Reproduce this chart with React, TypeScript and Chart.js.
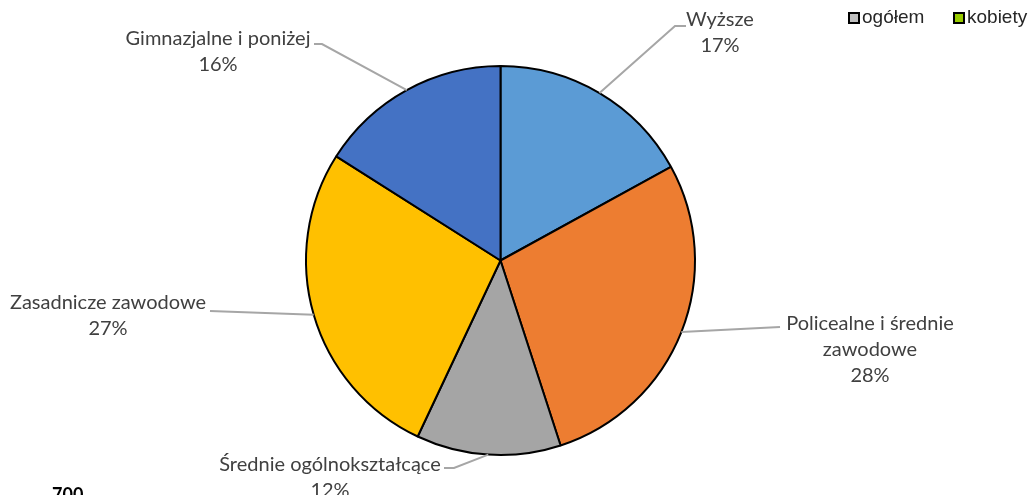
import React, { useEffect, useRef } from "react";
import { Chart, registerables } from "chart.js";

Chart.register(...registerables);

const categories = [
  "Wyższe",
  "Policealne i średnie zawodowe",
  "Średnie ogólnokształcące",
  "Zasadnicze zawodowe",
  "Gimnazjalne i poniżej",
];
const shares = [17, 28, 12, 27, 16];
const sliceColors = ["#5B9BD5", "#ED7D31", "#A5A5A5", "#FFC000", "#4472C4"];
const legendLabels = ["ogółem", "kobiety"];
const legendColors = ["#BFBFBF", "#99CC00"];
const cutAxisLabel = "700";

// label text lines (category broken for display) and layout of each label
const labelLines = [
  ["Wyższe"],
  ["Policealne i średnie", "zawodowe"],
  ["Średnie ogólnokształcące"],
  ["Zasadnicze zawodowe"],
  ["Gimnazjalne i poniżej"],
];
const labelLayout = [
  { cx: 720, top: 20, path: [[675, 26], [686, 26]] },
  { cx: 870, top: 324, path: [[780, 327]] },
  { cx: 330, top: 465, path: [[454, 468], [444, 468]] },
  { cx: 108, top: 303, path: [[210, 311]] },
  { cx: 218, top: 39, path: [[322, 44], [314, 44]] },
];

const LABEL_FONT = "20px Lato, 'Open Sans', sans-serif";

const labelPlugin = {
  id: "excelLabels",
  afterDraw(chart: any) {
    const ctx = chart.ctx as CanvasRenderingContext2D;
    const meta = chart.getDatasetMeta(0);
    ctx.save();
    meta.data.forEach((arc: any, i: number) => {
      const { x, y, outerRadius, startAngle, endAngle } = arc.getProps(
        ["x", "y", "outerRadius", "startAngle", "endAngle"],
        true
      );
      const mid = (startAngle + endAngle) / 2;
      const sx = x + Math.cos(mid) * outerRadius;
      const sy = y + Math.sin(mid) * outerRadius;
      const lay = labelLayout[i];
      ctx.strokeStyle = "#A6A6A6";
      ctx.lineWidth = 2;
      ctx.beginPath();
      ctx.moveTo(sx, sy);
      lay.path.forEach((p) => ctx.lineTo(p[0], p[1]));
      ctx.stroke();
      const lines = [...labelLines[i], `${shares[i]}%`];
      ctx.fillStyle = "#404040";
      ctx.font = LABEL_FONT;
      ctx.textAlign = "center";
      ctx.textBaseline = "middle";
      lines.forEach((t, k) => ctx.fillText(t, lay.cx, lay.top + k * 26));
    });
    // legend
    ctx.font = "19px 'Liberation Sans', Arial, sans-serif";
    ctx.textAlign = "left";
    ctx.textBaseline = "middle";
    const legendX = [849, 954];
    legendLabels.forEach((lab, i) => {
      const bx = legendX[i];
      ctx.fillStyle = legendColors[i];
      ctx.fillRect(bx, 13, 10, 10);
      ctx.strokeStyle = "#000";
      ctx.lineWidth = 2;
      ctx.strokeRect(bx, 13, 10, 10);
      ctx.fillStyle = "#262626";
      ctx.fillText(lab, bx + 13, 18);
    });
    // cut-off axis label of a chart below
    ctx.font = "bold 18px Lato, 'Open Sans', sans-serif";
    ctx.fillStyle = "#000";
    ctx.textAlign = "left";
    ctx.textBaseline = "top";
    ctx.fillText(cutAxisLabel, 52, 486);
    ctx.restore();
  },
};

export default function App() {
  const ref = useRef<HTMLCanvasElement | null>(null);
  useEffect(() => {
    if (!ref.current) return;
    const chart = new Chart(ref.current, {
      type: "pie",
      data: {
        labels: categories,
        datasets: [
          {
            data: shares,
            backgroundColor: sliceColors,
            borderColor: "#000000",
            borderWidth: 2,
          },
        ],
      },
      options: {
        animation: false,
        responsive: false,
        layout: { padding: { top: 65, bottom: 39, left: 0, right: 28 } },
        plugins: {
          legend: { display: false },
          tooltip: { enabled: false },
        },
      },
      plugins: [labelPlugin],
    });
    return () => chart.destroy();
  }, []);
  return (
    <div style={{ position: "fixed", left: 0, top: 0, width: 1029, height: 495, background: "#fff" }}>
      <canvas ref={ref} width={1029} height={495} />
    </div>
  );
}
